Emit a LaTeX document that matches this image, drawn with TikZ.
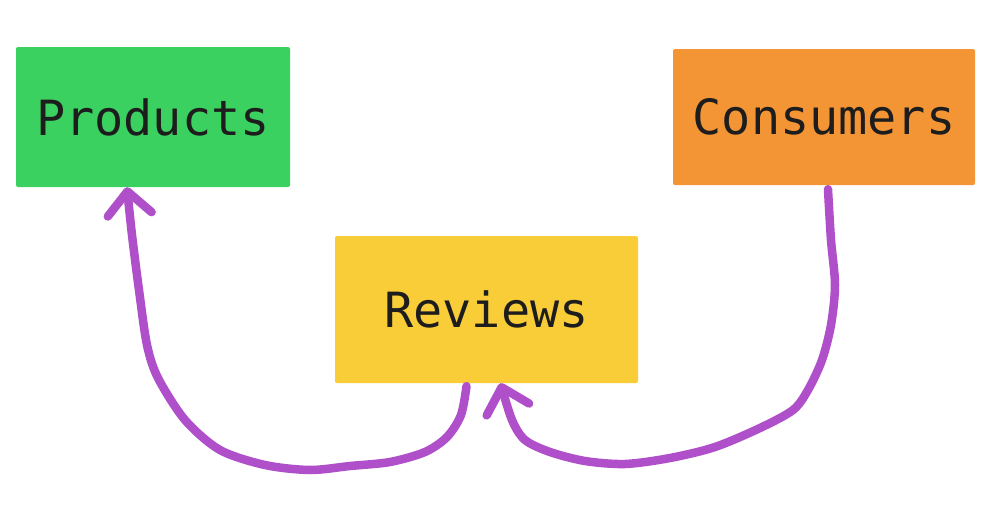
\documentclass[tikz,border=0pt]{standalone}
\usepackage{fontspec}
\setmonofont{DejaVu Sans Mono}
\usetikzlibrary{arrows.meta, positioning, calc}
\definecolor{notegreen}{rgb}{0.231373, 0.819608, 0.376471}
\definecolor{noteorange}{rgb}{0.956863, 0.584314, 0.207843}
\definecolor{noteyellow}{rgb}{0.976471, 0.803922, 0.219608}
\definecolor{penpurple}{rgb}{0.690196, 0.309804, 0.792157}
\definecolor{inkblack}{rgb}{0.113725, 0.113725, 0.113725}

\begin{document}
\begin{tikzpicture}[x=1pt, y=-1pt]
        \useasboundingbox (0,0) rectangle (986,530);
        \begin{scope}[every node/.style = {font=\ttfamily\fontsize{48.5}{58}\selectfont, text=inkblack, rounded corners=2pt, inner sep=0pt}]
        \node[fill=notegreen, minimum width=274pt, minimum height=140pt] (prod) at (153,117) {Products};
        \node[fill=noteorange, minimum width=302pt, minimum height=136pt] (cons) at (824,117) {Consumers};
        \node[fill=noteyellow, minimum width=303pt, minimum height=147pt] (rev) at (486.5,309.5) {Reviews};
        \end{scope}
        \begin{scope}[penpurple, line width=8.5pt, line cap=round, line join=round]
        % reviews back up to products
        \draw[-{Straight Barb[length=23pt, width=44pt, round]}] plot[smooth] coordinates {([xshift=-20pt, yshift=-3pt]rev.south) (461,415) (447,437) (425,452) (390,462) (350,466) (310,470) (265,465) (220,450) (185,420) (158,378) (147,345) (139,290) (132,235) ([xshift=-26pt, yshift=0pt]prod.south)};
        % consumers down to reviews
        \draw[-{Straight Barb[length=23pt, width=44pt, round]}] plot[smooth] coordinates {([xshift=4pt, yshift=-4pt]cons.south) (831,240) (835,285) (831,325) (822,360) (808,390) (793,410) (760,428) (715,447) (670,458) (625,464) (585,461) (550,452) (525,440) (512,420) ([xshift=14pt, yshift=0pt]rev.south)};
        \end{scope}
    \end{tikzpicture}
\end{document}
